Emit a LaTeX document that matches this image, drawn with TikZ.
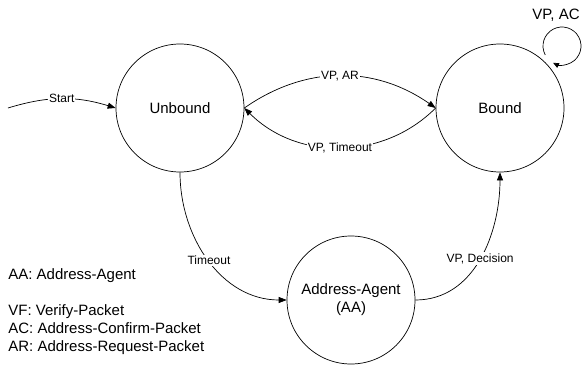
\documentclass[tikz,border=0pt]{standalone}
\usepackage{fontspec}
\setmainfont{Liberation Sans}
\usetikzlibrary{automata,positioning,arrows.meta,calc}
\tikzset{
node distance=4cm, % overridden below where needed
every state/.style={minimum size=128pt, line width=0.7pt, font=\fontsize{15}{18}\selectfont, align=center},
lbl/.style={fill=white, inner sep=1pt, font=\fontsize{12}{14}\selectfont},
}

\begin{document}
\begin{tikzpicture}[x=1pt,y=1pt,on grid,line width=0.7pt,>={Triangle[length=8pt,width=6pt]}]
   \useasboundingbox (0,0) rectangle (583,-364);
   \node[state] (q_u) at (180,-108) {Unbound};
   \node[state] (q_b) [right=320pt of q_u] {Bound};
   \node[state] (q_aa) [below right=192pt and 171pt of q_u] {Address-Agent\\(AA)};
   \coordinate[left=172pt of q_u] (q_start);
   \coordinate[above right=62pt and 62pt of q_b] (q_loop);
    \path[->]
    (q_start) edge[bend left=17] node[lbl] {Start} (q_u.west)
    (q_u.east) edge[bend left=35] node[lbl] {VP, AR} (q_b.west)
    (q_b.west) edge[bend left=45] node[lbl] {VP, Timeout} (q_u.east)
    (q_u.south) edge[out=-90,in=180] node[lbl] {Timeout} (q_aa.west)
    (q_aa.east) edge[out=0,in=-90] node[lbl] {VP, Decision} (q_b.south);
   % self loop on Bound
   \draw[-{Triangle[length=6pt,width=5pt]}] ($(q_loop)+(208:19)$) arc[start angle=208, end angle=-118, radius=19];
   \node[font=\fontsize{15}{18}\selectfont, inner sep=0pt] (l_loop) at ($(q_loop)+(-6,31)$) {VP, AC};
   % legend
   \node[anchor=west, align=left, inner sep=0pt, font=\fontsize{15}{18}\selectfont] (legend) at (8,-312)
     {AA: Address-Agent\\[18pt]VF: Verify-Packet\\AC: Address-Confirm-Packet\\AR: Address-Request-Packet};
\end{tikzpicture}
\end{document}
